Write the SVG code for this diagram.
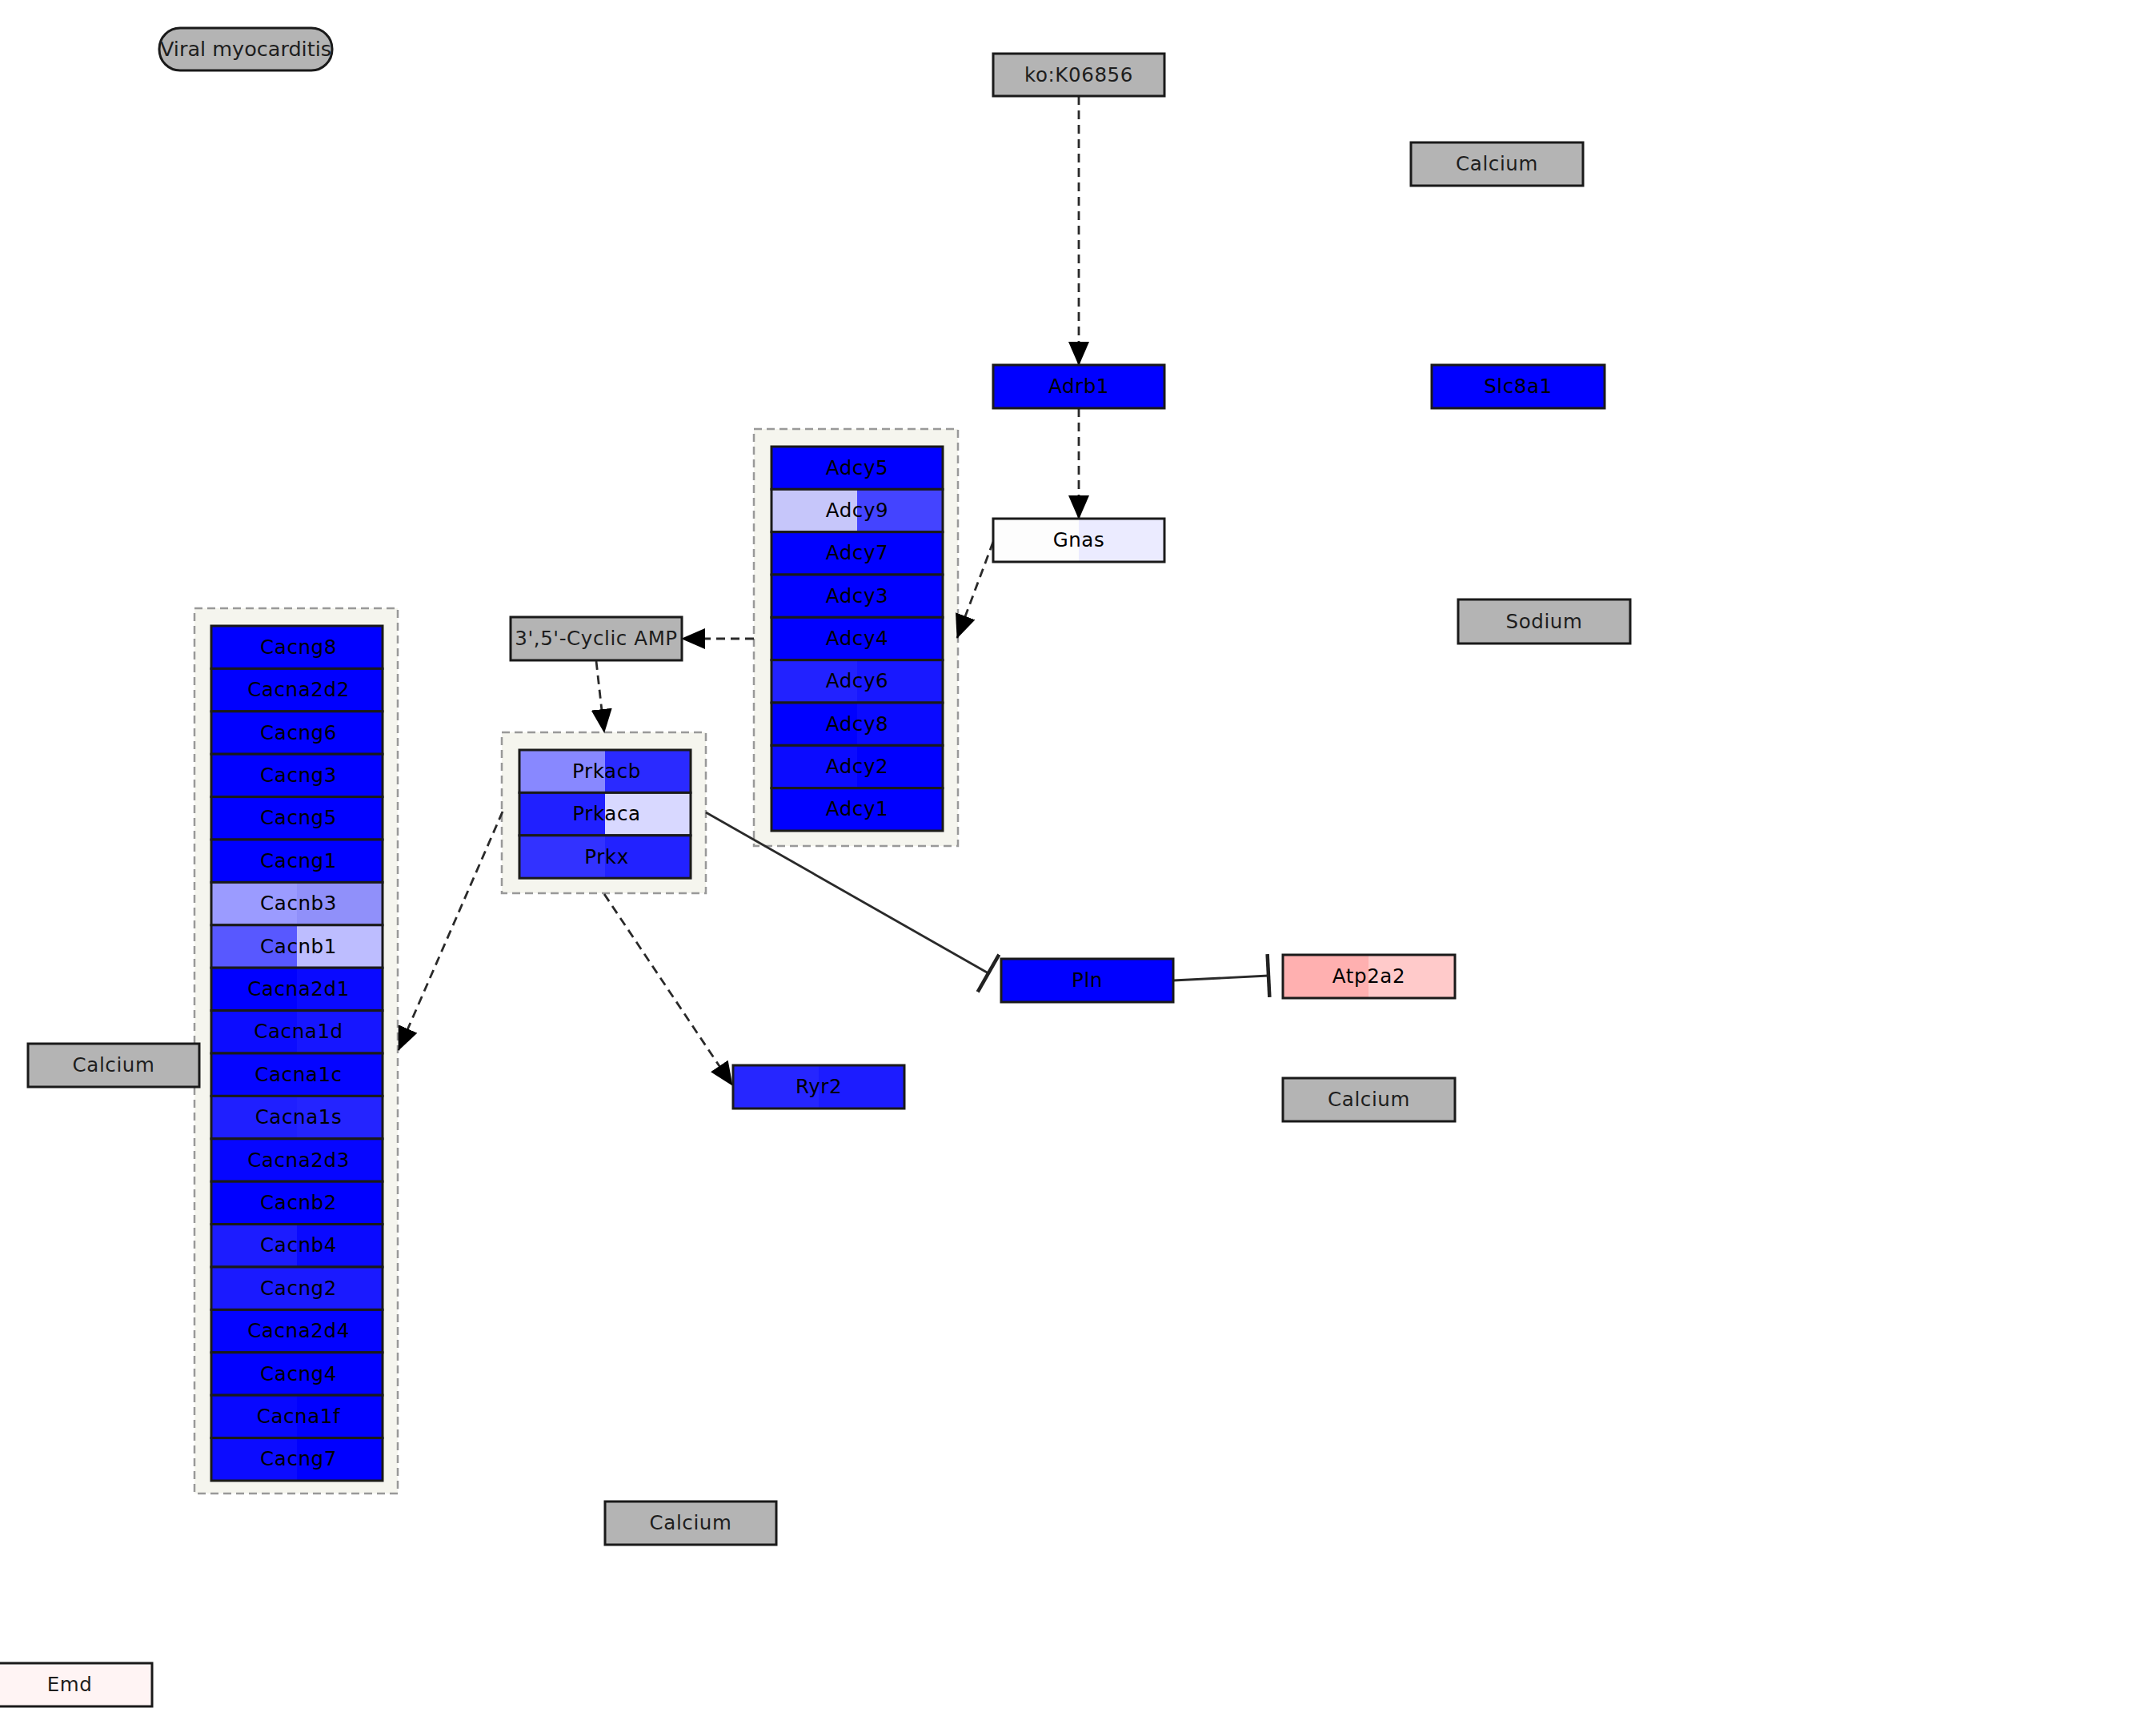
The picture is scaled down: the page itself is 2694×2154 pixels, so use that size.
<svg xmlns="http://www.w3.org/2000/svg" width="2694" height="2154" viewBox="0 0 2694 2154">
<style>
.n{stroke:#1a1a1a;stroke-width:3}
.gray{fill:#b4b4b4}
.blue{fill:#0000ff}
.grp{fill:#f5f5ee;stroke:#999;stroke-width:2.5;stroke-dasharray:10 6}
text{font-family:"DejaVu Sans","Liberation Sans",sans-serif;font-size:24.5px;letter-spacing:0.6px;text-anchor:middle;fill:#000}
.gt{fill:#1e1e1e}
.e{fill:none;stroke:#2a2a2a;stroke-width:2.8}
.d{stroke-dasharray:11 7}
</style>
<defs>
<marker id="arr" viewBox="0 0 30 26" markerWidth="30" markerHeight="26" refX="29" refY="13" orient="auto" markerUnits="userSpaceOnUse"><path d="M0,0 L30,13 L0,26 z" fill="#000"/></marker>
<marker id="tbar" viewBox="0 0 6 54" markerWidth="6" markerHeight="54" refX="3" refY="27" orient="auto" markerUnits="userSpaceOnUse"><path d="M3,0 V54" stroke="#222" stroke-width="4.5"/></marker>
<linearGradient id="gAdcy9"><stop offset="0.5" stop-color="#c6c6fa"/><stop offset="0.5" stop-color="#4444ff"/></linearGradient>
<linearGradient id="gAdcy6"><stop offset="0.5" stop-color="#2222ff"/><stop offset="0.5" stop-color="#1818ff"/></linearGradient>
<linearGradient id="gAdcy8"><stop offset="0.5" stop-color="#0000ff"/><stop offset="0.5" stop-color="#0a0aff"/></linearGradient>
<linearGradient id="gAdcy2"><stop offset="0.5" stop-color="#0b0bff"/><stop offset="0.5" stop-color="#0000ff"/></linearGradient>
<linearGradient id="gCacnb3"><stop offset="0.5" stop-color="#9b9bff"/><stop offset="0.5" stop-color="#9090fa"/></linearGradient>
<linearGradient id="gCacnb1"><stop offset="0.5" stop-color="#5858ff"/><stop offset="0.5" stop-color="#bdbdff"/></linearGradient>
<linearGradient id="gCacna2d1"><stop offset="0.5" stop-color="#0000ff"/><stop offset="0.5" stop-color="#0a0aff"/></linearGradient>
<linearGradient id="gCacna1d"><stop offset="0.5" stop-color="#0c0cff"/><stop offset="0.5" stop-color="#1616ff"/></linearGradient>
<linearGradient id="gCacna1s"><stop offset="0.5" stop-color="#1f1fff"/><stop offset="0.5" stop-color="#2424ff"/></linearGradient>
<linearGradient id="gCacnb4"><stop offset="0.5" stop-color="#1c1cff"/><stop offset="0.5" stop-color="#0a0aff"/></linearGradient>
<linearGradient id="gCacna1f"><stop offset="0.5" stop-color="#0808ff"/><stop offset="0.5" stop-color="#0000ff"/></linearGradient>
<linearGradient id="gCacng7"><stop offset="0.5" stop-color="#0c0cff"/><stop offset="0.5" stop-color="#0000ff"/></linearGradient>
<linearGradient id="gPrkacb"><stop offset="0.5" stop-color="#8888ff"/><stop offset="0.5" stop-color="#2a2aff"/></linearGradient>
<linearGradient id="gPrkaca"><stop offset="0.5" stop-color="#2020ff"/><stop offset="0.5" stop-color="#d8d8ff"/></linearGradient>
<linearGradient id="gPrkx"><stop offset="0.5" stop-color="#3232ff"/><stop offset="0.5" stop-color="#2222ff"/></linearGradient>
<linearGradient id="gGnas"><stop offset="0.5" stop-color="#fdfdfd"/><stop offset="0.5" stop-color="#ebebff"/></linearGradient>
<linearGradient id="gAtp2a2"><stop offset="0.5" stop-color="#ffb0b0"/><stop offset="0.5" stop-color="#ffcaca"/></linearGradient>
<linearGradient id="gRyr2"><stop offset="0.5" stop-color="#2626ff"/><stop offset="0.5" stop-color="#1c1cff"/></linearGradient>
</defs>
<rect width="2694" height="2154" fill="#fff"/>

<!-- groups -->
<g id="group-adcy">
<rect class="grp" x="942" y="536" width="255" height="521"/>
<g id="Adcy5"><rect class="n blue" x="964" y="558" width="214" height="53.33"/><text x="1071" y="592.7">Adcy5</text></g>
<g id="Adcy9"><rect class="n" fill="url(#gAdcy9)" x="964" y="611.33" width="214" height="53.33"/><text x="1071" y="646">Adcy9</text></g>
<g id="Adcy7"><rect class="n blue" x="964" y="664.67" width="214" height="53.33"/><text x="1071" y="699.3">Adcy7</text></g>
<g id="Adcy3"><rect class="n blue" x="964" y="718" width="214" height="53.33"/><text x="1071" y="752.7">Adcy3</text></g>
<g id="Adcy4"><rect class="n blue" x="964" y="771.33" width="214" height="53.33"/><text x="1071" y="806">Adcy4</text></g>
<g id="Adcy6"><rect class="n" fill="url(#gAdcy6)" x="964" y="824.67" width="214" height="53.33"/><text x="1071" y="859.3">Adcy6</text></g>
<g id="Adcy8"><rect class="n" fill="url(#gAdcy8)" x="964" y="878" width="214" height="53.33"/><text x="1071" y="912.7">Adcy8</text></g>
<g id="Adcy2"><rect class="n" fill="url(#gAdcy2)" x="964" y="931.33" width="214" height="53.33"/><text x="1071" y="966">Adcy2</text></g>
<g id="Adcy1"><rect class="n blue" x="964" y="984.67" width="214" height="53.33"/><text x="1071" y="1019.3">Adcy1</text></g>
</g>

<g id="group-cacn">
<rect class="grp" x="243" y="760" width="254" height="1106"/>
<g id="Cacng8"><rect class="n blue" x="264" y="782" width="214" height="53.4"/><text x="373" y="816.7">Cacng8</text></g>
<g id="Cacna2d2"><rect class="n blue" x="264" y="835.4" width="214" height="53.4"/><text x="373" y="870.1">Cacna2d2</text></g>
<g id="Cacng6"><rect class="n blue" x="264" y="888.8" width="214" height="53.4"/><text x="373" y="923.5">Cacng6</text></g>
<g id="Cacng3"><rect class="n blue" x="264" y="942.2" width="214" height="53.4"/><text x="373" y="976.9">Cacng3</text></g>
<g id="Cacng5"><rect class="n blue" x="264" y="995.6" width="214" height="53.4"/><text x="373" y="1030.3">Cacng5</text></g>
<g id="Cacng1"><rect class="n blue" x="264" y="1049" width="214" height="53.4"/><text x="373" y="1083.7">Cacng1</text></g>
<g id="Cacnb3"><rect class="n" fill="url(#gCacnb3)" x="264" y="1102.4" width="214" height="53.4"/><text x="373" y="1137.1">Cacnb3</text></g>
<g id="Cacnb1"><rect class="n" fill="url(#gCacnb1)" x="264" y="1155.8" width="214" height="53.4"/><text x="373" y="1190.5">Cacnb1</text></g>
<g id="Cacna2d1"><rect class="n" fill="url(#gCacna2d1)" x="264" y="1209.2" width="214" height="53.4"/><text x="373" y="1243.9">Cacna2d1</text></g>
<g id="Cacna1d"><rect class="n" fill="url(#gCacna1d)" x="264" y="1262.6" width="214" height="53.4"/><text x="373" y="1297.3">Cacna1d</text></g>
<g id="Cacna1c"><rect class="n" fill="#0505ff" x="264" y="1316" width="214" height="53.4"/><text x="373" y="1350.7">Cacna1c</text></g>
<g id="Cacna1s"><rect class="n" fill="url(#gCacna1s)" x="264" y="1369.4" width="214" height="53.4"/><text x="373" y="1404.1">Cacna1s</text></g>
<g id="Cacna2d3"><rect class="n" fill="#0606ff" x="264" y="1422.8" width="214" height="53.4"/><text x="373" y="1457.5">Cacna2d3</text></g>
<g id="Cacnb2"><rect class="n blue" x="264" y="1476.2" width="214" height="53.4"/><text x="373" y="1510.9">Cacnb2</text></g>
<g id="Cacnb4"><rect class="n" fill="url(#gCacnb4)" x="264" y="1529.6" width="214" height="53.4"/><text x="373" y="1564.3">Cacnb4</text></g>
<g id="Cacng2"><rect class="n" fill="#1a1aff" x="264" y="1583" width="214" height="53.4"/><text x="373" y="1617.7">Cacng2</text></g>
<g id="Cacna2d4"><rect class="n" fill="#0303ff" x="264" y="1636.4" width="214" height="53.4"/><text x="373" y="1671.1">Cacna2d4</text></g>
<g id="Cacng4"><rect class="n blue" x="264" y="1689.8" width="214" height="53.4"/><text x="373" y="1724.5">Cacng4</text></g>
<g id="Cacna1f"><rect class="n" fill="url(#gCacna1f)" x="264" y="1743.2" width="214" height="53.4"/><text x="373" y="1777.9">Cacna1f</text></g>
<g id="Cacng7"><rect class="n" fill="url(#gCacng7)" x="264" y="1796.6" width="214" height="53.4"/><text x="373" y="1831.3">Cacng7</text></g>
</g>

<g id="group-prk">
<rect class="grp" x="627" y="915" width="255" height="201"/>
<g id="Prkacb"><rect class="n" fill="url(#gPrkacb)" x="649" y="937" width="214" height="53.4"/><text x="758" y="971.7">Prkacb</text></g>
<g id="Prkaca"><rect class="n" fill="url(#gPrkaca)" x="649" y="990.4" width="214" height="53.4"/><text x="758" y="1025.1">Prkaca</text></g>
<g id="Prkx"><rect class="n" fill="url(#gPrkx)" x="649" y="1043.8" width="214" height="53.4"/><text x="758" y="1078.5">Prkx</text></g>
</g>

<!-- connectors -->
<g id="connectors">
<path class="e d" d="M1348,120 L1348,456" marker-end="url(#arr)"/>
<path class="e d" d="M1348,510 L1348,648" marker-end="url(#arr)"/>
<path class="e d" d="M1241,677 L1196,797" marker-end="url(#arr)"/>
<path class="e d" d="M942,798 L852,798" marker-end="url(#arr)"/>
<path class="e d" d="M745,826 L755,915" marker-end="url(#arr)"/>
<path class="e d" d="M628,1014 L498,1312" marker-end="url(#arr)"/>
<path class="e d" d="M755,1117 L915,1356" marker-end="url(#arr)"/>
<path class="e" d="M882,1015 L1235,1216" marker-end="url(#tbar)"/>
<path class="e" d="M1466,1225 L1585,1219" marker-end="url(#tbar)"/>
</g>

<!-- single nodes -->
<g id="viral-myocarditis"><rect class="n gray" x="199" y="35" width="216" height="53" rx="26" ry="26"/><text class="gt" x="307" y="70" style="font-size:25.5px;letter-spacing:0">Viral myocarditis</text></g>
<g id="ko-K06856"><rect class="n gray" x="1241" y="67" width="214" height="53"/><text class="gt" x="1348" y="101.5">ko:K06856</text></g>
<g id="Calcium-1"><rect class="n gray" x="1763" y="178" width="215" height="54"/><text class="gt" x="1870.5" y="213">Calcium</text></g>
<g id="Adrb1"><rect class="n blue" x="1241" y="456" width="214" height="54"/><text x="1348" y="491">Adrb1</text></g>
<g id="Slc8a1"><rect class="n blue" x="1789" y="456" width="216" height="54"/><text x="1897" y="491">Slc8a1</text></g>
<g id="Gnas"><rect class="n" fill="url(#gGnas)" x="1241" y="648" width="214" height="54"/><text x="1348" y="683">Gnas</text></g>
<g id="Sodium"><rect class="n gray" x="1822" y="749" width="215" height="55"/><text class="gt" x="1929.5" y="784.5">Sodium</text></g>
<g id="cAMP"><rect class="n gray" x="638" y="771" width="214" height="54"/><text class="gt" x="745" y="806">3',5'-Cyclic AMP</text></g>
<g id="Pln"><rect class="n blue" x="1251" y="1198" width="215" height="54"/><text x="1358.5" y="1233">Pln</text></g>
<g id="Atp2a2"><rect class="n" fill="url(#gAtp2a2)" x="1603" y="1193" width="215" height="54"/><text x="1710.5" y="1228">Atp2a2</text></g>
<g id="Calcium-2"><rect class="n gray" x="35" y="1304" width="214" height="54"/><text class="gt" x="142" y="1339">Calcium</text></g>
<g id="Ryr2"><rect class="n" fill="url(#gRyr2)" x="916" y="1331" width="214" height="54"/><text x="1023" y="1366">Ryr2</text></g>
<g id="Calcium-3"><rect class="n gray" x="1603" y="1347" width="215" height="54"/><text class="gt" x="1710.5" y="1382">Calcium</text></g>
<g id="Calcium-4"><rect class="n gray" x="756" y="1876" width="214" height="54"/><text class="gt" x="863" y="1911">Calcium</text></g>
<g id="Emd"><rect class="n" fill="#fff4f4" x="-25" y="2078" width="215" height="54"/><text class="gt" x="87" y="2113">Emd</text></g>
</svg>
